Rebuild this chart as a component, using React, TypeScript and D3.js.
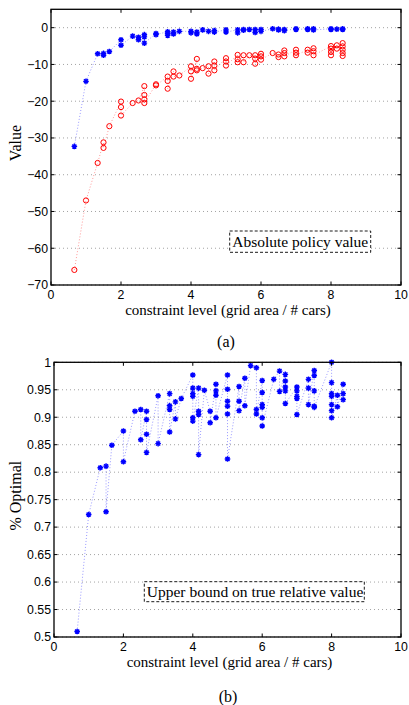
import React from 'react';
import * as d3 from 'd3';

// constraint levels (grid area / # cars) shared by both panels
const levels = [
  0.667, 1.0, 1.333, 1.5, 1.667, 2.0, 2.333, 2.5, 2.667, 3.0, 3.333, 3.5, 3.667,
  4.0, 4.167, 4.333, 4.5, 4.667, 5.0, 5.333, 5.5, 5.667, 5.833, 6.0, 6.333, 6.5,
  6.667, 7.0, 7.333, 7.5, 8.0, 8.167, 8.333,
];

// panel (a), blue asterisks: upper bound policy value
const upperValue = [
  [-32.3], [-14.6], [-7.1], [-7.0, -7.5], [-6.5], [-3.3, -4.8], [-2.3], [-2.6, -3.3],
  [-1.9, -2.5, -4.2], [-1.6, -1.9], [-1.1, -1.6, -2.1], [-1.2, -1.7], [-1.0],
  [-1.0, -1.4], [-1.2, -1.7], [-0.6], [-1.0], [-0.8, -1.2], [-0.6, -1.2], [-0.6, -1.4],
  [-0.5, -0.7], [-0.5], [-0.5, -1.3], [-0.5, -1.0], [-0.3], [-0.4, -0.6], [-0.5, -0.8],
  [-0.3, -0.5], [-0.3, -0.5], [-0.3, -0.6], [-0.3, -0.5], [-0.4], [-0.3, -0.5],
];

// panel (a), red circles: absolute policy value
const policyValue = [
  [-65.9], [-47.0], [-36.8], [-31.2, -32.7], [-26.8], [-20.1, -21.6, -23.9], [-20.5],
  [-19.8], [-15.9, -18.3, -19.5, -20.5], [-15.4, -15.7], [-13.3, -14.5, -16.6],
  [-11.9, -13.3], [-13.0], [-10.5, -11.9, -13.9], [-8.5, -11.2, -11.6], [-11.0],
  [-10.5, -12.5], [-9.2, -10.3, -11.6], [-8.3, -9.2, -10.3], [-7.4, -8.6, -9.4],
  [-7.5, -9.4], [-7.5], [-7.5, -8.4, -9.8], [-7.1, -7.8, -8.7], [-6.9], [-7.3, -8.0],
  [-6.2, -6.9, -7.8], [-6.0, -6.8, -7.5], [-6.0, -6.8], [-5.6, -6.4, -7.5],
  [-5.0, -5.7, -6.6, -7.5], [-4.8, -5.7], [-4.2, -5.1, -6.0, -6.9, -7.7],
];

// panel (b): fraction of optimal
const optimalRatio = [
  [0.51], [0.723], [0.808], [0.811, 0.728], [0.849], [0.875, 0.819], [0.911],
  [0.914, 0.859], [0.911, 0.896, 0.869, 0.836], [0.939, 0.852],
  [0.943, 0.921, 0.914, 0.873], [0.928, 0.897], [0.934],
  [0.977, 0.953, 0.943, 0.938, 0.899, 0.893], [0.953, 0.911, 0.905, 0.832], [0.949],
  [0.911, 0.89], [0.96, 0.948, 0.94, 0.899], [0.977, 0.951, 0.929, 0.92, 0.906, 0.824],
  [0.956, 0.929, 0.912], [0.971, 0.921], [0.994], [0.99, 0.914, 0.906],
  [0.967, 0.945, 0.923, 0.918, 0.899, 0.884], [0.969], [0.984, 0.947],
  [0.978, 0.966, 0.955, 0.948, 0.925], [0.955, 0.948, 0.938, 0.934, 0.905],
  [0.969, 0.953, 0.923], [0.985, 0.976, 0.948, 0.92, 0.918],
  [1.0, 0.963, 0.943, 0.938, 0.923, 0.912, 0.899], [0.94, 0.919], [0.96, 0.943, 0.932],
];

const xTicks = [0, 2, 4, 6, 8, 10];
const valueTicks = [0, -10, -20, -30, -40, -50, -60, -70];
const ratioTicks = [0.5, 0.55, 0.6, 0.65, 0.7, 0.75, 0.8, 0.85, 0.9, 0.95, 1];

const SANS = '"Liberation Sans", Arial, sans-serif';
const SERIF = '"Liberation Serif", "Times New Roman", serif';
const TICK = 3.5;

const flatten = (groups) => levels.flatMap((x, i) => groups[i].map(y => [x, y]));

const asterisk = (s) => {
  const a = s * 0.72;
  return `M${-s},0L${s},0M0,${-s}L0,${s}M${-a},${-a}L${a},${a}M${-a},${a}L${a},${-a}`;
};

const Panel = ({ box, yDomain, yTicks, yFormat, series, yLabel, legend }) => {
  const x = d3.scaleLinear().domain([0, 10]).range([box.left, box.right]);
  const y = d3.scaleLinear().domain(yDomain).range([box.bottom, box.top]);
  const line = d3.line().x(d => x(d[0])).y(d => y(d[1]));
  const midY = (box.top + box.bottom) / 2;

  return (
    <g>
      {/* horizontal dotted grid */}
      {yTicks.map(t => (
        <line key={'g' + t} x1={box.left} x2={box.right} y1={y(t)} y2={y(t)}
          stroke="#8c8c8c" strokeWidth={0.8} strokeDasharray="1,3" />
      ))}

      {series.map((s, i) => (
        <g key={i}>
          <path d={line(s.points)} fill="none" stroke={s.lineColor}
            strokeWidth={0.9} strokeDasharray="1,2" />
          {s.points.map((p, j) => s.marker === 'circle' ? (
            <circle key={j} cx={x(p[0])} cy={y(p[1])} r={2.6} fill="none"
              stroke={s.color} strokeWidth={1} />
          ) : (
            <path key={j} d={asterisk(2.8)} transform={`translate(${x(p[0])},${y(p[1])})`}
              stroke={s.color} strokeWidth={1.4} fill="none" />
          ))}
        </g>
      ))}

      {/* legend text box */}
      <rect x={legend.x} y={legend.y} width={legend.w} height={legend.h}
        fill="white" stroke="black" strokeWidth={0.9} strokeDasharray="3,2" />
      <text x={legend.x + 2.5} y={legend.y + legend.h - 5} fontFamily={SERIF}
        fontSize={15.5}>{legend.text}</text>

      {/* frame and ticks */}
      <rect x={box.left} y={box.top} width={box.right - box.left}
        height={box.bottom - box.top} fill="none" stroke="black" strokeWidth={1.3} />
      {xTicks.map(t => (
        <g key={'x' + t}>
          <line x1={x(t)} x2={x(t)} y1={box.bottom} y2={box.bottom - TICK} stroke="black" />
          <line x1={x(t)} x2={x(t)} y1={box.top} y2={box.top + TICK} stroke="black" />
          <text x={x(t)} y={box.bottom + 14} textAnchor="middle" fontFamily={SANS}
            fontSize={12.3}>{t}</text>
        </g>
      ))}
      {yTicks.map(t => (
        <g key={'y' + t}>
          <line x1={box.left} x2={box.left + TICK} y1={y(t)} y2={y(t)} stroke="black" />
          <line x1={box.right} x2={box.right - TICK} y1={y(t)} y2={y(t)} stroke="black" />
          <text x={box.left - 3} y={y(t) + 4.3} textAnchor="end" fontFamily={SANS}
            fontSize={12.3}>{yFormat(t)}</text>
        </g>
      ))}

      <text x={(box.left + box.right) / 2 + 2} y={box.bottom + 29.5} textAnchor="middle"
        fontFamily={SERIF} fontSize={15}>constraint level (grid area / # cars)</text>
      <text transform={`translate(21,${midY - 4}) rotate(-90)`} textAnchor="middle"
        fontFamily={SERIF} fontSize={16}>{yLabel}</text>
    </g>
  );
};

export default function App() {
  const minus = (t) => (t < 0 ? '\u2212' + Math.abs(t) : String(t));
  return (
    <svg width={409} height={705} viewBox="0 0 409 705"
      style={{ position: 'absolute', left: 0, top: 0, background: 'white' }}>
      <Panel
        box={{ left: 51, right: 401, top: 9.3, bottom: 285 }}
        yDomain={[-70, 5]}
        yTicks={valueTicks}
        yFormat={minus}
        yLabel="Value"
        series={[
          { points: flatten(policyValue), marker: 'circle', color: '#ff0000', lineColor: 'rgba(255,0,0,0.45)' },
          { points: flatten(upperValue), marker: 'star', color: '#0000ff', lineColor: 'rgba(0,0,255,0.45)' },
        ]}
        legend={{ x: 229.7, y: 231, w: 141, h: 21.3, text: 'Absolute policy value' }}
      />
      <text x={226} y={347} textAnchor="middle" fontFamily={SERIF} fontSize={16}>(a)</text>

      <Panel
        box={{ left: 54, right: 401, top: 362.3, bottom: 637 }}
        yDomain={[0.5, 1]}
        yTicks={ratioTicks}
        yFormat={(t) => String(t)}
        yLabel="% Optimal"
        series={[
          { points: flatten(optimalRatio), marker: 'star', color: '#0000ff', lineColor: 'rgba(0,0,255,0.45)' },
        ]}
        legend={{ x: 144.3, y: 581.7, w: 220, h: 20, text: 'Upper bound on true relative value' }}
      />
      <text x={228} y={702} textAnchor="middle" fontFamily={SERIF} fontSize={16}>(b)</text>
    </svg>
  );
}
